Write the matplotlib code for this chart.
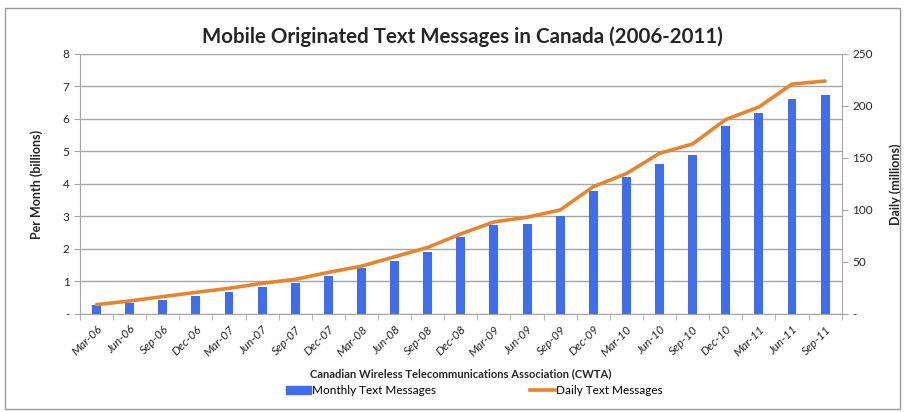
import matplotlib
matplotlib.use("Agg")
import matplotlib.pyplot as plt
import numpy as np
from matplotlib.patches import Rectangle
from matplotlib.lines import Line2D

plt.rcParams['font.family'] = ['Lato', 'DejaVu Sans']

quarters = ["Mar-06", "Jun-06", "Sep-06", "Dec-06", "Mar-07", "Jun-07", "Sep-07", "Dec-07",
            "Mar-08", "Jun-08", "Sep-08", "Dec-08", "Mar-09", "Jun-09", "Sep-09", "Dec-09",
            "Mar-10", "Jun-10", "Sep-10", "Dec-10", "Mar-11", "Jun-11", "Sep-11"]
monthly_billions = [0.28, 0.33, 0.43, 0.55, 0.67, 0.82, 0.96, 1.17,
                    1.40, 1.64, 1.91, 2.37, 2.73, 2.78, 3.00, 3.77,
                    4.20, 4.62, 4.89, 5.78, 6.17, 6.60, 6.73]
daily_millions = [9, 12.5, 16.7, 20.8, 24.7, 29.5, 33.3, 40,
                  46, 55, 64, 77, 88.5, 93, 100, 122.4,
                  135, 154.5, 163.5, 187, 199, 221, 224]
left_ticks = [0, 1, 2, 3, 4, 5, 6, 7, 8]
right_ticks = [0, 50, 100, 150, 200, 250]

bar_color = "#3F6DF0"
line_color = "#E8842C"
grid_color = "#A6A6A6"
text_color = "#262626"

fig = plt.figure(figsize=(9.05, 4.12), dpi=100)
fig.patches.append(Rectangle((0.006, 0.008), 0.988, 0.972, transform=fig.transFigure,
                             fill=False, edgecolor="#9A9A9A", linewidth=1.0))

ax = fig.add_axes([0.0884, 0.2379, 0.8416, 0.6311])
x = np.arange(len(quarters))
ax.bar(x, monthly_billions, width=0.27, color=bar_color, zorder=2)
ax.set_xlim(-0.5, len(quarters) - 0.5)
ax.set_ylim(0, 8)
ax.set_yticks(left_ticks)
ax.set_yticklabels(["-" if t == 0 else str(t) for t in left_ticks], fontsize=8.5, color=text_color)
ax.yaxis.grid(True, color=grid_color, linewidth=1.0, zorder=0)
ax.set_axisbelow(True)

ax.set_xticks(x)
ax.set_xticklabels(quarters, rotation=45, ha="right", rotation_mode="anchor",
                   fontsize=8.5, color=text_color, style="italic")
ax.set_xticks(np.arange(-0.5, len(quarters)), minor=True)
ax.tick_params(axis="x", which="major", length=0, pad=7)
ax.tick_params(axis="x", which="minor", length=4, color=grid_color)
ax.tick_params(axis="y", length=4, color=grid_color)

for side in ["top", "right"]:
    ax.spines[side].set_visible(False)
for side in ["left", "bottom"]:
    ax.spines[side].set_color(grid_color)

ax.set_ylabel("Per Month (billions)", fontsize=9, fontweight="bold", color=text_color, labelpad=14)
ax.set_xlabel("Canadian Wireless Telecommunications Association (CWTA)", fontsize=8,
              fontweight="bold", color=text_color, labelpad=7)

ax2 = ax.twinx()
ax2.plot(x, daily_millions, color=line_color, linewidth=2.6, zorder=3, solid_capstyle="round")
ax2.set_ylim(0, 250)
ax2.set_yticks(right_ticks)
ax2.set_yticklabels(["-" if t == 0 else str(t) for t in right_ticks], fontsize=8.5, color=text_color)
ax2.tick_params(axis="y", length=4, color=grid_color)
for side in ["top", "left", "bottom"]:
    ax2.spines[side].set_visible(False)
ax2.spines["right"].set_color(grid_color)
ax2.set_ylabel("Daily (millions)", fontsize=9, fontweight="bold", color=text_color, labelpad=12)

fig.suptitle("Mobile Originated Text Messages in Canada (2006-2011)", x=0.511, y=0.935,
             fontsize=14.8, fontweight="bold", color=text_color)

# Two legend entries, each placed on its own
legend_style = dict(loc="center left", frameon=False, fontsize=8.5, borderpad=0,
                    borderaxespad=0, handlelength=2.1, handletextpad=0.1, handleheight=0.7)
fig.legend([Rectangle((0, 0), 1, 1, color=bar_color)], ["Monthly Text Messages"],
           bbox_to_anchor=(0.316, 0.051), **legend_style)
fig.legend([Line2D([0], [0], color=line_color, linewidth=2.6)], ["Daily Text Messages"],
           bbox_to_anchor=(0.586, 0.051), **legend_style)

fig.savefig("out.png", dpi=100)
